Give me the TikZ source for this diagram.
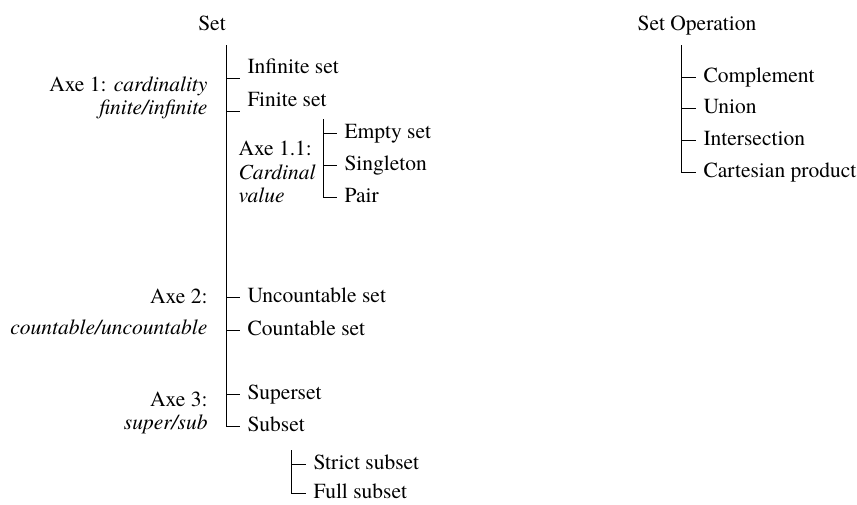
\documentclass[tikz,border=0pt]{standalone}
\usepackage{fontspec}
\setmainfont{texgyretermes}[Extension=.otf, UprightFont=*-regular, ItalicFont=*-italic, BoldFont=*-bold]
\begin{document}
\begin{tikzpicture}[x=1pt, y=-1pt, line width=1pt,
        font=\fontsize{21.5}{23.5}\selectfont,
        branch/.style={to path={|- (\tikztotarget)}}]
            \useasboundingbox (0,0) rectangle (857,504);
            {
                \tikzset{every node/.style = {inner sep=7pt},
                    leaf/.style = {anchor=west, text height=14.5pt, text depth=3pt},
                    root/.style = {text height=14.5pt, text depth=3pt},
                    axe/.style = {anchor=east, align=right}}

                \node[root] (set) at (212, 25) {Set};
                \coordinate (settop) at (226, 45);
                \node[leaf] (inf) at (240, 68) {Infinite set};
                \node[leaf] (fin) at (240, 101) {Finite set};
                \node[axe] (ax1) at (215, 98) {Axe 1: \textit{cardinality}\\ \textit{finite/infinite}};

                \node[anchor=west, align=left] (ax11) at (231, 172) {Axe 1.1:\\ \textit{Cardinal}\\ \textit{value}};
                \coordinate (cardtop) at (323, 119);
                \node[leaf] (empty) at (337, 133) {Empty set};
                \node[leaf] (single) at (337, 165) {Singleton};
                \node[leaf] (pair) at (337, 197) {Pair};

                \node[leaf] (unc) at (240, 297) {Uncountable set};
                \node[leaf] (cnt) at (240, 330) {Countable set};
                \node[axe] (ax2) at (215, 312) {Axe 2:\\[7pt] \textit{countable/uncountable}};

                \node[leaf] (sup) at (240, 394) {Superset};
                \node[leaf] (sub) at (240, 426) {Subset};
                \node[axe] (ax3) at (215, 413) {Axe 3:\\ \textit{super/sub}};

                \coordinate (subtop) at (291, 450);
                \node[leaf] (strict) at (306, 464) {Strict subset};
                \node[leaf] (full) at (306, 493) {Full subset};

                \node[root] (opr) at (697, 25) {Set Operation};
                \coordinate (optop) at (681, 45);
                \node[leaf] (compl) at (696, 77) {Complement};
                \node[leaf] (union) at (696, 108) {Union};
                \node[leaf] (inter) at (696, 140) {Intersection};
                \node[leaf] (cart) at (696, 172) {Cartesian product};
            }

            % main tree: trunk down to the last leaf, one tick per leaf
            \draw (settop) edge[branch] ([yshift=-10pt]inf.west);
            \draw (settop) edge[branch] ([yshift=-10pt]fin.west);
            \draw (settop) edge[branch] (unc.west);
            \draw (settop) edge[branch] (cnt.west);
            \draw (settop) edge[branch] (sup.west);
            \draw (settop) edge[branch] (sub.west);

            \draw (cardtop) edge[branch] (empty.west);
            \draw (cardtop) edge[branch] (single.west);
            \draw (cardtop) edge[branch] (pair.west);

            \draw (subtop) edge[branch] (strict.west);
            \draw (subtop) edge[branch] (full.west);

            % operations
            \draw (optop) edge[branch] (compl.west);
            \draw (optop) edge[branch] (union.west);
            \draw (optop) edge[branch] (inter.west);
            \draw (optop) edge[branch] (cart.west);

        \end{tikzpicture}
\end{document}
